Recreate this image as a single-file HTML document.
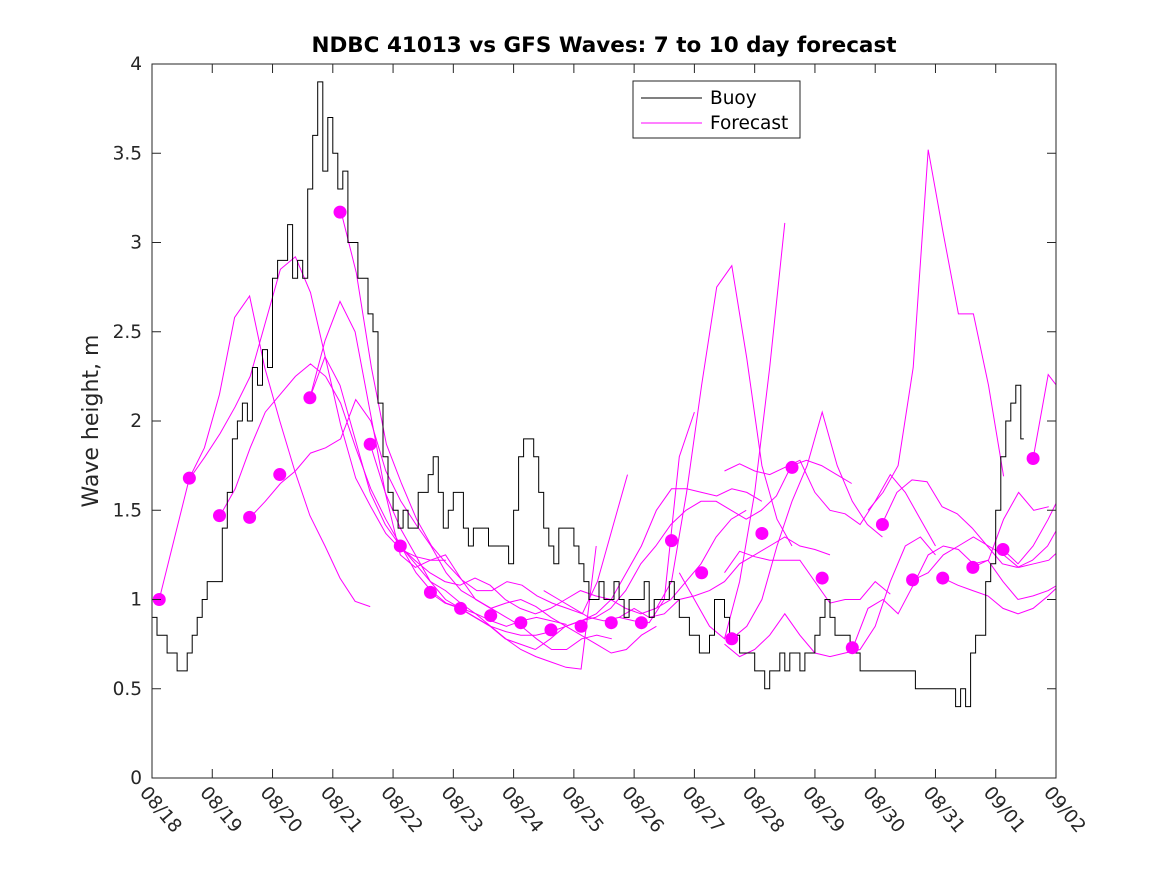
<!DOCTYPE html>
<html><head><meta charset="utf-8"><style>
body{margin:0;background:#fff;}
svg{display:block;font-family:"DejaVu Sans","Liberation Sans",sans-serif;}
</style></head><body>
<svg id="chart" width="1167" height="875" viewBox="0 0 1167 875" xmlns="http://www.w3.org/2000/svg">
<rect width="1167" height="875" fill="#fff"/>
<text x="604" y="52" text-anchor="middle" font-size="21.5" font-weight="bold" fill="#000">NDBC 41013 vs GFS Waves: 7 to 10 day forecast</text>
<text transform="translate(98,421) rotate(-90)" text-anchor="middle" font-size="22" fill="#262626">Wave height, m</text>
<g id="plot"></g>
<rect x="152" y="64" width="904" height="714" fill="none" stroke="#262626" stroke-width="1"/>
<g id="axes"></g>
<g>
<rect x="633" y="81" width="167" height="57" fill="#fff" stroke="#262626"/>
<line x1="641" y1="98" x2="702" y2="98" stroke="#000"/>
<text x="710" y="104" font-size="18.5" fill="#000">Buoy</text>
<line x1="641" y1="123" x2="702" y2="123" stroke="#f0f"/>
<text x="710" y="129" font-size="18.5" fill="#000">Forecast</text>
</g>
</svg>
<script>
const xTickLabels=["08/18","08/19","08/20","08/21","08/22","08/23","08/24","08/25","08/26","08/27","08/28","08/29","08/30","08/31","09/01","09/02"];
const yTickValues=[0,0.5,1,1.5,2,2.5,3,3.5,4];
const yTickLabels=["0","0.5","1","1.5","2","2.5","3","3.5","4"];
const buoyStartDay=0;
const buoyStepDays=1/12;
const buoyValues=[0.9,0.8,0.8,0.7,0.7,0.6,0.6,0.7,0.8,0.9,1.0,1.1,1.1,1.1,1.4,1.6,1.9,2.0,2.1,2.0,2.3,2.2,2.4,2.3,2.8,2.9,2.9,3.1,2.8,2.9,2.8,3.3,3.6,3.9,3.4,3.7,3.5,3.3,3.4,3.0,3.0,2.8,2.8,2.6,2.5,2.1,1.8,1.6,1.5,1.4,1.5,1.4,1.4,1.6,1.6,1.7,1.8,1.6,1.4,1.5,1.6,1.6,1.4,1.3,1.4,1.4,1.4,1.3,1.3,1.3,1.3,1.2,1.5,1.8,1.9,1.9,1.8,1.6,1.4,1.3,1.2,1.4,1.4,1.4,1.3,1.2,1.1,1.0,1.0,1.1,1.0,1.0,1.1,1.0,0.9,1.0,1.0,1.0,1.1,0.9,1.0,1.0,1.0,1.1,1.0,0.9,0.9,0.8,0.8,0.7,0.7,0.8,1.0,1.0,0.9,0.8,0.8,0.7,0.7,0.7,0.6,0.6,0.5,0.6,0.6,0.7,0.6,0.7,0.7,0.6,0.7,0.7,0.8,0.9,1.0,0.9,0.8,0.8,0.8,0.7,0.7,0.6,0.6,0.6,0.6,0.6,0.6,0.6,0.6,0.6,0.6,0.6,0.5,0.5,0.5,0.5,0.5,0.5,0.5,0.5,0.4,0.5,0.4,0.7,0.8,0.8,1.1,1.2,1.5,1.8,2.0,2.1,2.2,1.9];
const dotStartDay=0.12;
const dotStepDays=0.5;
const dotValues=[1.0,1.68,1.47,1.46,1.70,2.13,3.17,1.87,1.30,1.04,0.95,0.91,0.87,0.83,0.85,0.87,0.87,1.33,1.15,0.78,1.37,1.74,1.12,0.73,1.42,1.11,1.12,1.18,1.28,1.79];
const fcStepDays=0.25;
const fcStarts=[0.12,0.63,1.13,1.63,2.62,2.62,3.14,3.62,4.11,4.61,7.75,8.37,8.75,11.88,9.5,9.5,11.63,12.11,13.12,12.63,14.62,13.62,14.12,9.62,9.5,6.5];
const fc0=[1.0,1.34,1.68,1.85,2.15,2.58,2.70,2.30,2.00,1.72,1.47,1.30,1.12,0.99,0.96];
const fc1=[1.68,1.8,1.93,2.08,2.25,2.55,2.85,2.92,2.72,2.35,1.98,1.68,1.52,1.37,1.28,1.24,1.22,1.22];
const fc2=[1.47,1.62,1.85,2.05,2.15,2.25,2.32,2.25,2.1,1.85,1.62,1.45,1.3,1.15,1.05,0.98,0.95,0.92,0.88,0.85,0.88,0.9,0.88,0.86];
const fc3=[1.46,1.55,1.65,1.72,1.82,1.85,1.9,2.12,2.0,1.72,1.55,1.42,1.3,1.15,1.05,1.0,0.95,0.9,0.85,0.78,0.72,0.72,0.78,0.8,0.78];
const fc4=[2.13,2.45,2.67,2.5,2.05,1.6,1.25,1.18,1.22,1.25,1.12,1.0,0.95,0.98,1.0,0.96,0.9,0.85,0.8,0.75,0.7,0.72,0.8,0.85];
const fc5=[2.13,2.36,2.2,1.9,1.6,1.42,1.3,1.2,1.1,1.05,0.98,0.92,0.85,0.78,0.72,0.68,0.65,0.62,0.61,1.3];
const fc6=[3.17,2.83,2.3,1.87,1.65,1.45,1.3,1.2,1.11,1.05,1.05,1.1,1.08,1.02,0.98,0.95,0.92,1.1,1.4,1.7];
const fc7=[1.87,1.6,1.4,1.25,1.1,1.0,0.95,0.9,0.85,0.82,0.8,0.8,0.82,0.85,0.88,0.92,1.0,1.15,1.3,1.5,1.62,1.62,1.6,1.58,1.62,1.6,1.55];
const fc8=[1.30,1.22,1.15,1.1,1.08,1.12,1.08,1.0,0.95,0.92,0.95,1.0,1.05,1.02,1.0,0.95,0.92,0.95,1.0,1.1,1.2,1.35,1.45,1.5];
const fc9=[1.04,0.98,0.95,0.9,0.85,0.78,0.75,0.72,0.78,0.85,0.88,0.9,0.95,1.05,1.2,1.3,1.42,1.5,1.55,1.55,1.5,1.45,1.5,1.58,1.75,1.78,1.75,1.7,1.65];
const fc10=[0.9,0.88,0.87,1.0,1.8,2.05];
const fc11=[0.95,1.1,1.6,2.2,2.75,2.87,2.35,1.75,1.45,1.3];
const fc12=[1.15,1.0,0.85,0.78,1.1,1.6,2.3,3.11];
const fc13=[1.5,1.6,1.75,2.3,3.52,3.05,2.6,2.6,2.2,1.69];
const fc14=[1.72,1.76,1.72,1.7,1.74,1.78,1.6,1.5,1.48,1.42,1.55,1.7,1.6,1.45,1.3];
const fc15=[0.75,0.68,0.72,0.8,0.92,0.8,0.7,0.68,0.7,0.72,0.85,1.1,1.3,1.35,1.25];
const fc16=[0.73,0.95,1.0,0.92,1.08,1.25,1.3,1.28,1.2,1.22,1.45,1.6,1.5,1.52];
const fc17=[1.42,1.6,1.67,1.66,1.52,1.48,1.4,1.3,1.2,1.18,1.22,1.3,1.45,1.55,1.6,1.62];
const fc18=[1.12,1.08,1.05,1.02,0.95,0.92,0.95,1.02,1.1,1.05,1.12];
const fc19=[1.11,1.15,1.25,1.3,1.35,1.3,1.25,1.18,1.2,1.22,1.3,1.4,1.43];
const fc20=[1.79,2.26,2.15];
const fc21=[1.18,1.22,1.1,1.0,1.02,1.05,1.1];
const fc22=[1.28,1.2,1.3,1.45,1.62];
const fc23=[0.78,0.85,1.0,1.3,1.55,1.75,2.05,1.75,1.55,1.42,1.35];
const fc24=[1.15,1.27,1.24,1.22,1.22,1.22,1.1,0.98,1.0,1.0,1.1,1.03];
const fc25=[1.05,1.0,0.95,0.9,0.88,0.9,0.95,0.9,0.92,1.0,1.02,1.05,1.1,1.2,1.25,1.3,1.35,1.3,1.28,1.25];
const fcSeries=[fc0,fc1,fc2,fc3,fc4,fc5,fc6,fc7,fc8,fc9,fc10,fc11,fc12,fc13,fc14,fc15,fc16,fc17,fc18,fc19,fc20,fc21,fc22,fc23,fc24,fc25];

const NS="http://www.w3.org/2000/svg";
const X0=152,X1=1056,Y0=778,Y1=64,DAYS=15,YMAX=4;
function xs(d){return X0+(X1-X0)*d/DAYS;}
function ys(v){return Y0-(Y0-Y1)*v/YMAX;}
const plot=document.getElementById('plot');
const axes=document.getElementById('axes');

const defs=document.createElementNS(NS,'defs');
defs.innerHTML='<clipPath id="clip"><rect x="152" y="64" width="904" height="714"/></clipPath>';
plot.appendChild(defs);
plot.setAttribute('clip-path','url(#clip)');

fcSeries.forEach((vals,i)=>{
  const pts=vals.map((v,j)=>xs(fcStarts[i]+j*fcStepDays).toFixed(1)+','+ys(v).toFixed(1)).join(' ');
  const pl=document.createElementNS(NS,'polyline');
  pl.setAttribute('points',pts);
  pl.setAttribute('fill','none');pl.setAttribute('stroke','#f0f');pl.setAttribute('stroke-width','1');
  
  
  plot.appendChild(pl);
});

let d='';
buoyValues.forEach((v,j)=>{
  const x=xs(buoyStartDay+j*buoyStepDays),y=ys(v);
  if(j===0)d+='M'+x.toFixed(1)+','+y.toFixed(1);
  else d+='H'+x.toFixed(1)+'V'+y.toFixed(1);
});
d+='h3';
const bp=document.createElementNS(NS,'path');
bp.setAttribute('d',d);bp.setAttribute('fill','none');bp.setAttribute('stroke','#000');bp.setAttribute('stroke-width','1');


plot.appendChild(bp);

dotValues.forEach((v,j)=>{
  const c=document.createElementNS(NS,'circle');
  c.setAttribute('cx',xs(dotStartDay+j*dotStepDays));c.setAttribute('cy',ys(v));c.setAttribute('r','6.5');c.setAttribute('fill','#f0f');
  
  
  plot.appendChild(c);
});

xTickLabels.forEach((lab,i)=>{
  const x=xs(i);
  const t1=document.createElementNS(NS,'path');
  t1.setAttribute('d','M'+x+','+Y0+'v-9M'+x+','+Y1+'v9');t1.setAttribute('stroke','#262626');
  
  
  axes.appendChild(t1);
  const tx=document.createElementNS(NS,'text');
  tx.setAttribute('transform','translate('+(x-13)+','+(Y0+15)+') rotate(50)');
  tx.setAttribute('font-size','18.5');tx.setAttribute('fill','#262626');
  tx.textContent=lab;
  
  
  axes.appendChild(tx);
});
yTickValues.forEach((v,i)=>{
  const y=ys(v);
  const t1=document.createElementNS(NS,'path');
  t1.setAttribute('d','M'+X0+','+y+'h9M'+X1+','+y+'h-9');t1.setAttribute('stroke','#262626');
  
  
  axes.appendChild(t1);
  const tx=document.createElementNS(NS,'text');
  tx.setAttribute('x',X0-10);tx.setAttribute('y',y+6);tx.setAttribute('text-anchor','end');
  tx.setAttribute('font-size','18.5');tx.setAttribute('fill','#262626');
  tx.textContent=yTickLabels[i];
  
  
  axes.appendChild(tx);
});
</script>
</body></html>
